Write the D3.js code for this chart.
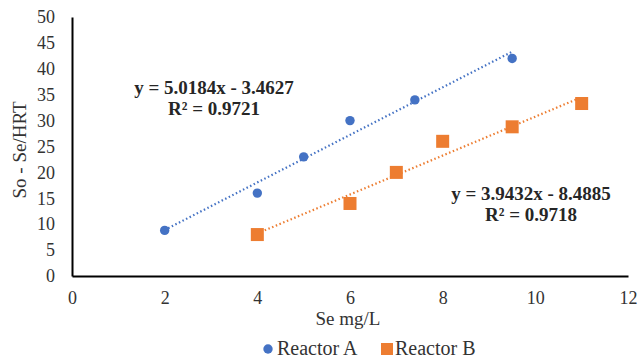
<!DOCTYPE html>
<html lang="en">
<head>
    <meta charset="utf-8">
    <title>Reactor A / B</title>
    <script src="https://cdn.jsdelivr.net/npm/d3@7"></script>
    <style>
        body { margin: 0; background: #fff; }
        text { font-family: "Liberation Serif", "Times New Roman", serif; fill: #262626; }
        .tick text { font-size: 18px; fill: #333; }
        .eq { font-size: 19px; font-weight: bold; fill: #262626; }
        .title { font-size: 19px; fill: #333; }
        .legend { font-family: "Liberation Serif", serif; font-size: 20px; fill: #333; }
    </style>
</head>
<body>
<div id="chart"></div>
<script>
    const w = 640, h = 360;

    // data
    const xA = [2, 4, 5, 6, 7.4, 9.5];
    const yA = [8.8, 16, 23, 30, 34, 42];
    const xB = [4, 6, 7, 8, 9.5, 11];
    const yB = [8, 14, 20, 26, 28.8, 33.3];
    const seriesNames = ["Reactor A", "Reactor B"];
    const equations = [["y = 5.0184x - 3.4627", "R² = 0.9721"], ["y = 3.9432x - 8.4885", "R² = 0.9718"]];
    const xTicks = [0, 2, 4, 6, 8, 10, 12];
    const yTicks = [0, 5, 10, 15, 20, 25, 30, 35, 40, 45, 50];
    const colors = ["#4472C4", "#ED7D31"];

    const svg = d3.select("#chart").append("svg").attr("width", w).attr("height", h);

    const x = d3.scaleLinear().domain([0, 12]).range([72, 628]);
    const y = d3.scaleLinear().domain([0, 50]).range([276, 17]);

    // axes
    svg.append("g").attr("transform", "translate(0,276)")
        .call(d3.axisBottom(x).tickValues(xTicks).tickSize(0).tickPadding(15))
        .call(g => g.select(".domain").attr("stroke", "#000").attr("stroke-width", 2));
    svg.append("g").attr("transform", "translate(72,0)")
        .call(d3.axisLeft(y).tickValues(yTicks).tickSize(0).tickPadding(17))
        .call(g => g.select(".domain").attr("stroke", "#000").attr("stroke-width", 2));

    // least-squares trend lines
    function fit(xs, ys) {
        const mx = d3.mean(xs), my = d3.mean(ys);
        const sxy = d3.sum(xs, (v, i) => (v - mx) * (ys[i] - my));
        const sxx = d3.sum(xs, v => (v - mx) * (v - mx));
        const m = sxy / sxx;
        return [m, my - m * mx];
    }

    const sets = [[xA, yA], [xB, yB]];
    sets.forEach(function (s, k) {
        const f = fit(s[0], s[1]);
        const x0 = d3.min(s[0]), x1 = d3.max(s[0]);
        svg.append("line")
            .attr("x1", x(x0)).attr("y1", y(f[0] * x0 + f[1]))
            .attr("x2", x(x1)).attr("y2", y(f[0] * x1 + f[1]))
            .attr("stroke", colors[k]).attr("stroke-width", 2.2)
            .attr("stroke-dasharray", "1.5 2.5").attr("stroke-linecap", "butt");
    });

    // markers
    svg.selectAll("circle.a").data(xA).enter().append("circle")
        .attr("cx", d => x(d)).attr("cy", (d, i) => y(yA[i]))
        .attr("r", 4.7).attr("fill", colors[0]);
    svg.selectAll("rect.b").data(xB).enter().append("rect")
        .attr("x", d => x(d) - 6.5).attr("y", (d, i) => y(yB[i]) - 6.5)
        .attr("width", 13).attr("height", 13).attr("fill", colors[1]);

    // equations
    const eqPos = [[214, 94], [531, 200]];
    equations.forEach(function (e, k) {
        const t = svg.append("text").attr("class", "eq").attr("text-anchor", "middle")
            .attr("x", eqPos[k][0]).attr("y", eqPos[k][1]);
        t.append("tspan").attr("x", eqPos[k][0]).text(e[0]);
        t.append("tspan").attr("x", eqPos[k][0]).attr("dy", 21).text(e[1]);
    });

    // axis titles
    svg.append("text").attr("class", "title").attr("text-anchor", "middle")
        .attr("x", 348).attr("y", 325).text("Se mg/L");
    svg.append("text").attr("class", "title").attr("text-anchor", "middle")
        .attr("transform", "translate(26,150) rotate(-90)").text("So - Se/HRT");

    // legend
    svg.append("circle").attr("cx", 268).attr("cy", 349).attr("r", 4.7).attr("fill", colors[0]);
    svg.append("text").attr("class", "legend").attr("x", 277).attr("y", 355).text(seriesNames[0]);
    svg.append("rect").attr("x", 381).attr("y", 343).attr("width", 12).attr("height", 12).attr("fill", colors[1]);
    svg.append("text").attr("class", "legend").attr("x", 395).attr("y", 355).text(seriesNames[1]);
</script>
</body>
</html>
